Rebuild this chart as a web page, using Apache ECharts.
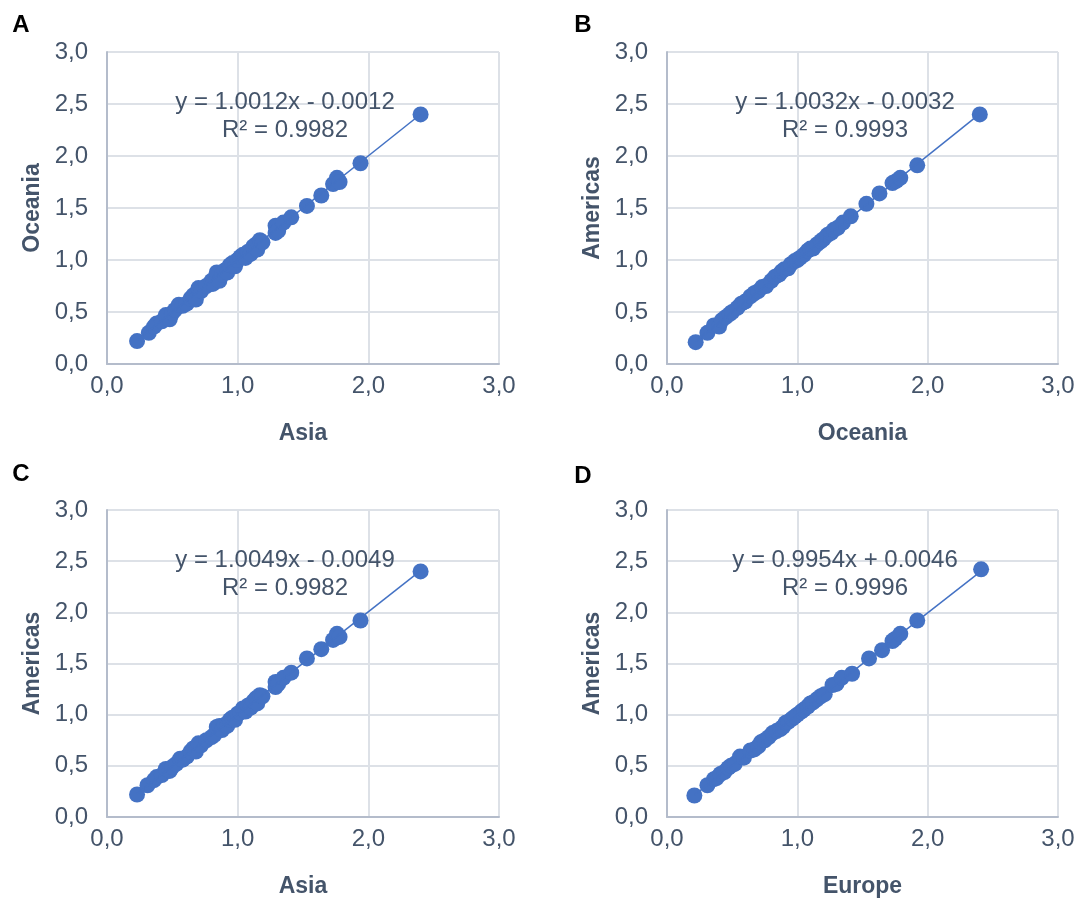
<!DOCTYPE html>
<html>
<head>
<meta charset="utf-8">
<script src="https://cdn.jsdelivr.net/npm/echarts@6/dist/echarts.min.js"></script>
<style>
html,body{margin:0;padding:0;background:#fff;}
#chart{width:1084px;height:899px;}
</style>
</head>
<body>
<div id="chart"></div>
<script>
// ---- Data ----
const panelLetters = ['A', 'B', 'C', 'D'];
const xTitles = ['Asia', 'Oceania', 'Asia', 'Europe'];
const yTitles = ['Oceania', 'Americas', 'Americas', 'Americas'];
const equations = ['y = 1.0012x - 0.0012', 'y = 1.0032x - 0.0032', 'y = 1.0049x - 0.0049', 'y = 0.9954x + 0.0046'];
const r2Labels = ['R² = 0.9982', 'R² = 0.9993', 'R² = 0.9982', 'R² = 0.9996'];
const slopes = [1.0012, 1.0032, 1.0049, 0.9954];
const intercepts = [-0.0012, -0.0032, -0.0049, 0.0046];
const xTicks = [0, 1, 2, 3];
const yTicks = [0, 0.5, 1, 1.5, 2, 2.5, 3];

const pointsA = [[0.23,0.22],[0.32,0.30],[0.36,0.36],[0.38,0.39],[0.42,0.41],[0.45,0.47],[0.48,0.43],[0.50,0.49],[0.52,0.52],[0.55,0.57],[0.58,0.56],[0.61,0.58],[0.64,0.63],[0.66,0.66],[0.68,0.62],[0.70,0.73],[0.72,0.70],[0.76,0.75],[0.80,0.80],[0.81,0.77],[0.84,0.88],[0.86,0.80],[0.88,0.86],[0.90,0.90],[0.92,0.88],[0.94,0.95],[0.96,0.97],[0.98,0.94],[1.00,1.00],[1.02,1.03],[1.04,1.05],[1.06,1.02],[1.08,1.08],[1.10,1.06],[1.12,1.13],[1.14,1.15],[1.15,1.10],[1.17,1.19],[1.19,1.17],[1.29,1.33],[1.29,1.26],[1.31,1.28],[1.35,1.36],[1.41,1.41],[1.53,1.52],[1.64,1.62],[1.73,1.73],[1.76,1.79],[1.78,1.75],[1.94,1.93],[2.40,2.40]];
const pointsB = [[0.22,0.21],[0.31,0.30],[0.36,0.37],[0.40,0.36],[0.42,0.42],[0.45,0.45],[0.48,0.48],[0.50,0.50],[0.54,0.54],[0.57,0.58],[0.60,0.60],[0.64,0.65],[0.67,0.68],[0.70,0.70],[0.73,0.74],[0.76,0.75],[0.80,0.80],[0.83,0.84],[0.86,0.86],[0.88,0.89],[0.90,0.91],[0.93,0.92],[0.95,0.96],[0.98,0.99],[1.00,1.00],[1.02,1.02],[1.05,1.05],[1.08,1.09],[1.10,1.11],[1.12,1.11],[1.15,1.15],[1.18,1.18],[1.20,1.20],[1.23,1.24],[1.26,1.26],[1.28,1.29],[1.31,1.31],[1.35,1.36],[1.41,1.42],[1.53,1.54],[1.63,1.64],[1.73,1.74],[1.76,1.76],[1.79,1.79],[1.92,1.91],[2.40,2.40]];
const pointsC = [[0.23,0.22],[0.31,0.31],[0.36,0.36],[0.38,0.39],[0.42,0.41],[0.45,0.47],[0.48,0.45],[0.50,0.49],[0.53,0.52],[0.56,0.57],[0.58,0.56],[0.61,0.59],[0.64,0.64],[0.66,0.67],[0.68,0.64],[0.70,0.72],[0.72,0.70],[0.76,0.75],[0.80,0.78],[0.82,0.80],[0.84,0.88],[0.86,0.89],[0.88,0.85],[0.90,0.90],[0.92,0.89],[0.94,0.95],[0.96,0.97],[0.98,0.95],[1.00,1.01],[1.02,1.02],[1.04,1.06],[1.06,1.03],[1.08,1.09],[1.10,1.07],[1.12,1.13],[1.14,1.16],[1.15,1.11],[1.17,1.19],[1.19,1.18],[1.29,1.32],[1.29,1.27],[1.31,1.30],[1.35,1.36],[1.41,1.41],[1.53,1.55],[1.64,1.64],[1.73,1.73],[1.76,1.79],[1.78,1.76],[1.94,1.92],[2.40,2.40]];
const pointsD = [[0.21,0.21],[0.31,0.31],[0.36,0.37],[0.38,0.38],[0.41,0.42],[0.44,0.44],[0.47,0.48],[0.49,0.50],[0.52,0.52],[0.56,0.59],[0.59,0.58],[0.64,0.65],[0.67,0.66],[0.70,0.69],[0.72,0.73],[0.75,0.75],[0.78,0.78],[0.81,0.82],[0.84,0.84],[0.87,0.86],[0.89,0.88],[0.91,0.92],[0.93,0.93],[0.96,0.96],[0.98,0.98],[1.00,1.00],[1.03,1.03],[1.05,1.05],[1.08,1.08],[1.10,1.11],[1.12,1.12],[1.15,1.15],[1.18,1.18],[1.21,1.20],[1.27,1.29],[1.30,1.30],[1.34,1.36],[1.42,1.40],[1.55,1.55],[1.65,1.63],[1.73,1.72],[1.75,1.74],[1.79,1.79],[1.92,1.92],[2.41,2.42]];
const allPoints = [pointsA, pointsB, pointsC, pointsD];

// ---- Layout / style ----
const grids = [
  {left: 107, top: 52, width: 392, height: 312},
  {left: 667, top: 52, width: 391, height: 312},
  {left: 107, top: 510, width: 392, height: 312},
  {left: 667, top: 510, width: 391, height: 312}
];
const letterPos = [[21, 25], [583, 25], [21, 474], [583, 476]];
const BLUE = '#4472C4';
const TXT = '#44546A';
const FONT = '"Liberation Sans", Arial';
const fmt = v => v.toFixed(1).replace('.', ',');

const chart = echarts.init(document.getElementById('chart'), null, {renderer: 'canvas'});
const xAxes = [], yAxes = [], series = [], graphics = [];

grids.forEach((g, i) => {
  xAxes.push({
    gridIndex: i, type: 'value', min: 0, max: 3, interval: 1,
    name: xTitles[i], nameLocation: 'middle', nameGap: 58,
    nameTextStyle: {fontFamily: FONT, fontWeight: 'bold', fontSize: 23, color: TXT},
    axisLine: {show: true, onZero: false, lineStyle: {color: '#b4bccb', width: 2}},
    axisTick: {show: false},
    axisLabel: {formatter: fmt, fontFamily: FONT, fontSize: 24, color: TXT, margin: 10},
    splitLine: {show: true, lineStyle: {color: '#dde1e7', width: 2}}
  });
  yAxes.push({
    gridIndex: i, type: 'value', min: 0, max: 3, interval: 0.5,
    name: yTitles[i], nameLocation: 'middle', nameGap: 63,
    nameTextStyle: {fontFamily: FONT, fontWeight: 'bold', fontSize: 23, color: TXT},
    axisLine: {show: true, onZero: false, lineStyle: {color: '#b4bccb', width: 2}},
    axisTick: {show: false},
    axisLabel: {formatter: fmt, fontFamily: FONT, fontSize: 24, color: TXT, margin: 19, padding: [4, 0, 0, 0]},
    splitLine: {show: true, lineStyle: {color: '#dde1e7', width: 2}}
  });
  const pts = allPoints[i];
  series.push({
    type: 'scatter', xAxisIndex: i, yAxisIndex: i, data: pts,
    symbol: 'circle', symbolSize: 16,
    itemStyle: {color: BLUE, opacity: 1},
    silent: true, z: 2
  });
  const xs = pts.map(p => p[0]);
  const x0 = Math.min(...xs), x1 = Math.max(...xs);
  series.push({
    type: 'line', xAxisIndex: i, yAxisIndex: i,
    data: [[x0, slopes[i] * x0 + intercepts[i]], [x1, slopes[i] * x1 + intercepts[i]]],
    symbol: 'none', lineStyle: {color: BLUE, width: 1.5}, silent: true, z: 3
  });
  graphics.push({
    type: 'text', x: g.left + 178, y: g.top + 50, z: 10,
    style: {text: equations[i], textAlign: 'center', textVerticalAlign: 'middle',
            font: '24px ' + FONT, fill: TXT}
  });
  graphics.push({
    type: 'text', x: g.left + 178, y: g.top + 78, z: 10,
    style: {text: r2Labels[i], textAlign: 'center', textVerticalAlign: 'middle',
            font: '24px ' + FONT, fill: TXT}
  });
  graphics.push({
    type: 'text', x: letterPos[i][0], y: letterPos[i][1], z: 10,
    style: {text: panelLetters[i], textAlign: 'center', textVerticalAlign: 'middle',
            font: 'bold 24px ' + FONT, fill: '#000'}
  });
});

chart.setOption({
  animation: false,
  backgroundColor: '#fff',
  grid: grids.map(g => Object.assign({containLabel: false}, g)),
  xAxis: xAxes,
  yAxis: yAxes,
  series: series,
  graphic: graphics
});
</script>
</body>
</html>
